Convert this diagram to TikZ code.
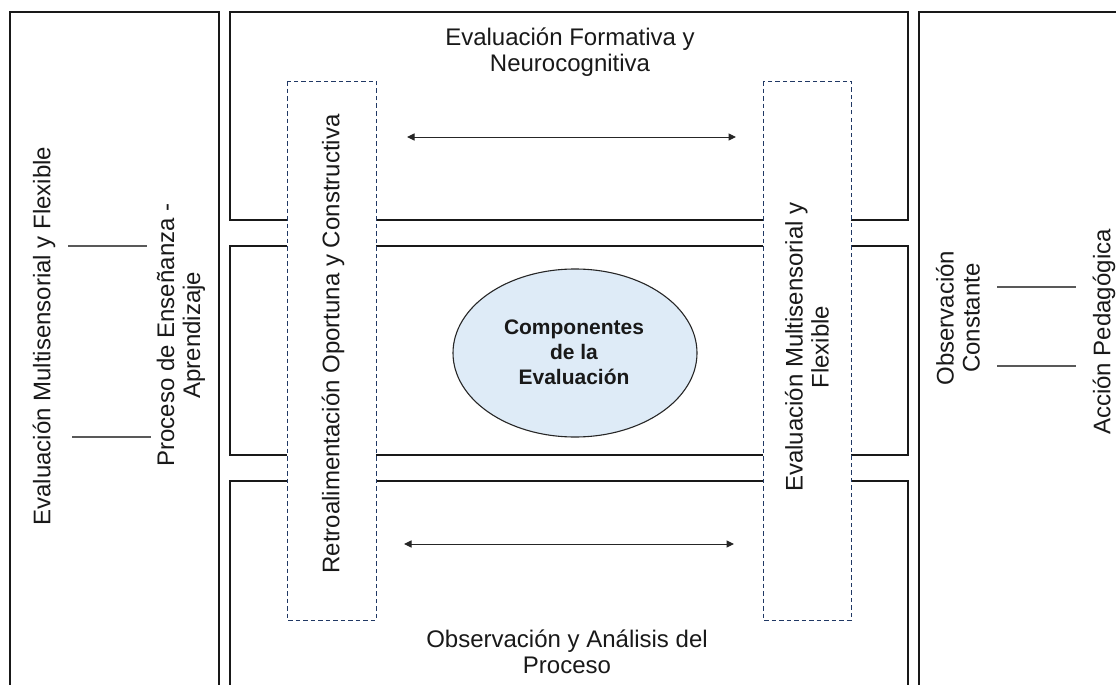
\documentclass[tikz,border=0pt]{standalone}
\usepackage{fontspec}
\setmainfont{Liberation Sans}
\usetikzlibrary{arrows.meta,shapes.geometric}
\definecolor{navy}{HTML}{203864}
\definecolor{ellfill}{HTML}{DEEBF7}
\definecolor{linegray}{HTML}{595959}
\begin{document}
\begin{tikzpicture}[x=1pt,y=-1pt,
  panel/.style={draw=black!90, line width=1.4pt},
  dbox/.style={draw=navy, fill=white, line width=1pt, dash pattern=on 4.5pt off 3pt},
  lbl/.style={inner sep=0pt, align=center, font=\fontsize{24}{26}\selectfont, text=black!90},
  vlbl/.style={lbl, rotate=90},
  dbl/.style={{Triangle[length=7.5pt,width=7pt]}-{Triangle[length=7.5pt,width=7pt]}, line width=1pt, draw=black!85},
  glink/.style={draw=linegray, line width=1.2pt}]
\useasboundingbox (0,0) rectangle (1116,685);
\clip (0,0) rectangle (1116,685);
% outer panels
\draw[panel] (10,690) -- (10,12) -- (219,12) -- (219,690);
\draw[panel] (919,690) -- (919,12) -- (1120,12);
% middle column panels
\draw[panel] (230,12) rectangle (908,220);
\draw[panel] (230,246) rectangle (908,455);
\draw[panel] (230,690) -- (230,481) -- (908,481) -- (908,690);
% dashed boxes
\draw[dbox] (287,81) rectangle (376,620);
\draw[dbox] (763,81) rectangle (851,620);
% texts
\node[lbl] (top) at (570,52) {Evaluación Formativa y\\Neurocognitiva};
\node[lbl] (bot) at (567,652) {Observación y Análisis del\\Proceso};
\node[vlbl] (lmulti) at (44,336) {Evaluación Multisensorial y Flexible};
\node[vlbl] (proc) at (181,335) {Proceso de Enseñanza -\\Aprendizaje};
\node[vlbl] (retro) at (333,344) {Retroalimentación Oportuna y Constructiva};
\node[vlbl] (rmulti) at (807,347) {Evaluación Multisensorial y\\Flexible};
\node[vlbl] (obs) at (958,318) {Observación\\Constante};
\node[vlbl] (acc) at (1104,332) {Acción Pedagógica};
% central ellipse
\node[ellipse, draw=black!85, fill=ellfill, line width=1.1pt, minimum width=244pt, minimum height=168pt] (comp) at (575,353) {};
\node[inner sep=0pt, align=center, font=\fontsize{21}{25}\bfseries\selectfont, text=black!90] (comptxt) at (574,352) {Componentes\\de la\\Evaluación};
% arrows
\coordinate (ta) at (407,137); \coordinate (tb) at (736,137);
\coordinate (ba) at (404,544); \coordinate (bb) at (734,544);
\draw[dbl] (ta) -- (tb);
\draw[dbl] (ba) -- (bb);
% gray links
\coordinate (l1a) at (68,246); \coordinate (l1b) at (147,246);
\coordinate (l2a) at (72,437); \coordinate (l2b) at (151,437);
\coordinate (r1a) at (997,287); \coordinate (r1b) at (1076,287);
\coordinate (r2a) at (997,366); \coordinate (r2b) at (1076,366);
\draw[glink] (l1a) -- (l1b);
\draw[glink] (l2a) -- (l2b);
\draw[glink] (r1a) -- (r1b);
\draw[glink] (r2a) -- (r2b);
\end{tikzpicture}
\end{document}
